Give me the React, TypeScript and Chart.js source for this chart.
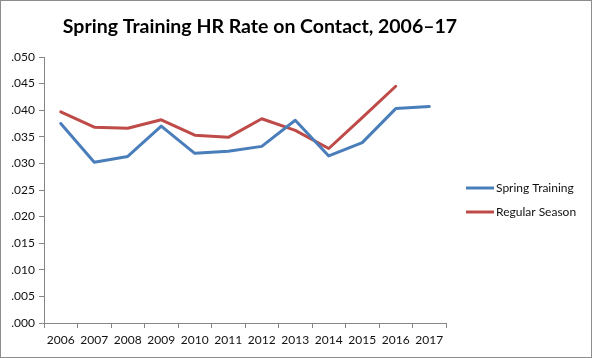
import React, { useEffect, useRef } from "react";
import { Chart, registerables } from "chart.js";

Chart.register(...registerables);

const years = ["2006","2007","2008","2009","2010","2011","2012","2013","2014","2015","2016","2017"];
const springTraining = [0.0375, 0.0302, 0.0313, 0.0370, 0.0319, 0.0323, 0.0332, 0.0381, 0.0314, 0.0339, 0.0403, 0.0407];
const regularSeason = [0.0397, 0.0368, 0.0366, 0.0382, 0.0353, 0.0349, 0.0384, 0.0362, 0.0328, 0.0386, 0.0445, null];
const seriesNames = ["Spring Training", "Regular Season"];
const seriesColors = ["#4A7EBB", "#BE4B48"];
const titleText = "Spring Training HR Rate on Contact, 2006\u201317";

const FONT = "Lato, 'Open Sans', sans-serif";

const decorPlugin = {
  id: "decor",
  afterDraw(chart: any) {
    const ctx = chart.ctx;
    ctx.save();
    // outer border
    ctx.strokeStyle = "#8C8C8C";
    ctx.lineWidth = 1;
    ctx.strokeRect(0.5, 0.5, chart.width - 1, chart.height - 1);
    // title
    ctx.fillStyle = "#000";
    ctx.font = `bold 19.5px ${FONT}`;
    ctx.textAlign = "center";
    ctx.textBaseline = "alphabetic";
    ctx.fillText(titleText, 260, 33);
    // legend
    ctx.font = `12px ${FONT}`;
    ctx.textAlign = "left";
    ctx.textBaseline = "middle";
    const ys = [188, 212];
    chart.data.datasets.forEach((ds: any, i: number) => {
      ctx.strokeStyle = ds.borderColor;
      ctx.lineWidth = 3;
      ctx.beginPath();
      ctx.moveTo(466, ys[i]);
      ctx.lineTo(494, ys[i]);
      ctx.stroke();
      ctx.fillStyle = "#111";
      ctx.fillText(ds.label, 496, ys[i]);
    });
    ctx.restore();
  },
};

export default function App() {
  const ref = useRef<HTMLCanvasElement>(null);
  useEffect(() => {
    document.body.style.margin = "0";
    const canvas = ref.current!;
    const chart = new Chart(canvas, {
      type: "line",
      data: {
        labels: years,
        datasets: [
          {
            label: seriesNames[0],
            data: springTraining,
            borderColor: seriesColors[0],
            backgroundColor: seriesColors[0],
            borderWidth: 3,
            pointRadius: 0,
            tension: 0,
            borderJoinStyle: "round",
            borderCapStyle: "round",
          },
          {
            label: seriesNames[1],
            data: regularSeason,
            borderColor: seriesColors[1],
            backgroundColor: seriesColors[1],
            borderWidth: 3,
            pointRadius: 0,
            tension: 0,
            borderJoinStyle: "round",
            borderCapStyle: "round",
          },
        ],
      },
      options: {
        responsive: false,
        animation: false,
        layout: { padding: { left: 0, right: 146, top: 57, bottom: 0 } },
        plugins: {
          legend: { display: false },
          title: { display: false },
          tooltip: { enabled: false },
        },
        scales: {
          x: {
            type: "category",
            offset: true,
            grid: {
              offset: true,
              drawOnChartArea: false,
              drawTicks: true,
              tickLength: 5,
              color: "#868686",
            },
            border: { display: true, color: "#868686", width: 1 },
            ticks: {
              color: "#111",
              font: { family: FONT, size: 12 },
              padding: 5,
              maxRotation: 0,
              autoSkip: false,
            },
            afterFit: (s: any) => {
              s.height = 35;
            },
          },
          y: {
            min: 0,
            max: 0.05,
            grid: {
              drawOnChartArea: false,
              drawTicks: true,
              tickLength: 5,
              color: "#868686",
            },
            border: { display: true, color: "#868686", width: 1 },
            ticks: {
              stepSize: 0.005,
              color: "#111",
              font: { family: FONT, size: 12 },
              padding: 4,
              callback: (v: any) => Number(v).toFixed(3).replace(/^0/, ""),
            },
            afterFit: (s: any) => {
              s.width = 44;
            },
          },
        },
      },
      plugins: [decorPlugin],
    });
    return () => chart.destroy();
  }, []);
  return (
    <div style={{ width: 592, height: 358, background: "#fff" }}>
      <canvas ref={ref} width={592} height={358} style={{ display: "block" }} />
    </div>
  );
}
